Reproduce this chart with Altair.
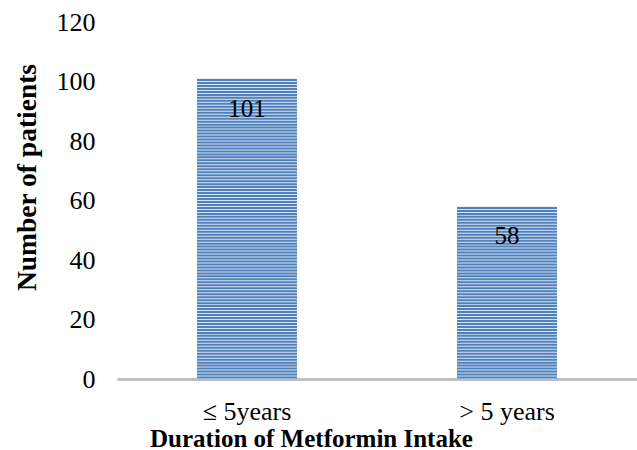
import altair as alt
import pandas as pd

# Patients grouped by how long they have taken metformin
categories = ["≤ 5years", "> 5 years"]
patients = [101, 58]

bars = pd.DataFrame({"duration": categories, "patients": patients})

# Horizontal hatch lines filling each bar, one per unit of count
stripe_rows = []
for cat, val in zip(categories, patients):
    for k in range(val):
        stripe_rows.append({"duration": cat, "level": k + 0.5})
stripes = pd.DataFrame(stripe_rows)

FONT = "Liberation Serif"
BLUE = "#4F81BD"
PALE = "#D9E3F1"

x_enc = alt.X(
    "duration:N",
    sort=categories,
    scale=alt.Scale(paddingInner=0, paddingOuter=0),
    axis=alt.Axis(
        title="Duration of Metformin Intake",
        labelAngle=0,
        labelFontSize=26,
        labelFont=FONT,
        labelColor="black",
        labelPadding=19,
        ticks=False,
        domainColor="#BFBFBF",
        domainWidth=3,
        titleFont=FONT,
        titleFontSize=25,
        titleFontWeight="bold",
        titleColor="black",
        titleX=194,
        titleY=67,
        titleBaseline="alphabetic",
        titleAlign="center",
    ),
)

y_scale = alt.Scale(domain=[0, 120], nice=False)

base_bar = alt.Chart(bars).mark_bar(size=100, color=PALE).encode(
    x=x_enc,
    y=alt.Y(
        "patients:Q",
        scale=y_scale,
        axis=alt.Axis(
            title="Number of patients",
            values=[0, 20, 40, 60, 80, 100, 120],
            grid=False,
            domain=False,
            ticks=False,
            labelFontSize=26,
            labelFont=FONT,
            labelColor="black",
            labelPadding=22,
            titleFont=FONT,
            titleFontSize=27.5,
            titleFontWeight="bold",
            titleColor="black",
            titleAngle=-90,
            titleX=-82,
            titleY=155,
            titleAlign="center",
            titleBaseline="alphabetic",
        ),
    ),
)

hatch = alt.Chart(stripes).mark_tick(size=100, thickness=2, color=BLUE, opacity=1).encode(
    x=alt.X("duration:N", sort=categories),
    y=alt.Y("level:Q", scale=y_scale),
)

labels = alt.Chart(bars).mark_text(
    font=FONT, fontSize=25, color="black", baseline="middle", dy=30
).encode(
    x=alt.X("duration:N", sort=categories),
    y=alt.Y("patients:Q", scale=y_scale),
    text=alt.Text("patients:Q"),
)

chart = (
    alt.layer(base_bar, hatch, labels)
    .properties(
        width=520,
        height=357,
        autosize=alt.AutoSizeParams(type="none"),
        padding={"left": 117, "top": 22, "right": 0, "bottom": 71},
        background="white",
    )
    .configure_view(stroke=None)
)

chart.save("out.html", embed_options={"renderer": "svg", "actions": False})
